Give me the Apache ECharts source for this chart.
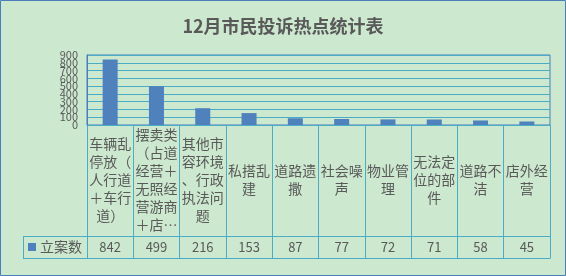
<!DOCTYPE html>
<html>
<head>
<meta charset="utf-8">
<script src="https://cdn.jsdelivr.net/npm/echarts@6/dist/echarts.min.js"></script>
<style>
html,body{margin:0;padding:0;background:#CCE8CF;}
#c{width:566px;height:276px;}
</style>
</head>
<body>
<div id="c"></div>
<script>
var title = '12月市民投诉热点统计表';
var seriesName = '立案数';
var categories = ['车辆乱停放（人行道＋车行道）', '摆卖类（占道经营＋无照经营游商＋店外经营）', '其他市容环境、行政执法问题', '私搭乱建', '道路遗撒', '社会噪声', '物业管理', '无法定位的部件', '道路不洁', '店外经营'];
var values = [842, 499, 216, 153, 87, 77, 72, 71, 58, 45];
var yTicks = [0, 100, 200, 300, 400, 500, 600, 700, 800, 900];

var FONT = '"Noto Sans CJK SC", "Noto Sans", sans-serif';
var TEXT = '#595959';
var GRIDC = '#4BACC6';
var BORDER = '#4A7EBB';
var Y_MIN = yTicks[0], Y_MAX = yTicks[yTicks.length - 1];

function wrapLabel(s) {
  var chars = Array.from(s), lines = [];
  for (var i = 0; i < chars.length; i += 3) lines.push(chars.slice(i, i + 3).join(''));
  if (lines.length > 6) {
    lines = lines.slice(0, 6);
    var last = Array.from(lines[5]);
    last[last.length - 1] = '…';
    lines[5] = last.join('');
  }
  return lines.join('\n');
}

var yLabelStyle = {margin: 9, fontFamily: FONT, fontSize: 11, color: TEXT, hideOverlap: false};

var chart = echarts.init(document.getElementById('c'), null, {renderer: 'canvas'});
var L = 87, R = 550, T = 55, B = 125;
chart.setOption({
  backgroundColor: '#CCE8CF',
  animation: false,
  title: {
    text: title, left: 'center', top: 12,
    textStyle: {fontFamily: FONT, fontSize: 18, fontWeight: 'bold', color: TEXT}
  },
  legend: {
    data: [seriesName], left: 28, top: 240, padding: 0,
    icon: 'rect', itemWidth: 8, itemHeight: 8, itemGap: 5,
    textStyle: {fontFamily: FONT, fontSize: 14, color: TEXT, padding: [0, 0, 0, -1]}
  },
  grid: {left: L, right: 566 - R, top: T, bottom: 276 - B, show: true, borderColor: BORDER, borderWidth: 1, backgroundColor: 'transparent'},
  xAxis: [{
    type: 'category', data: categories, position: 'bottom',
    axisLine: {show: true, lineStyle: {color: GRIDC, width: 1}},
    axisTick: {show: true, length: 133, lineStyle: {color: GRIDC, width: 1}},
    axisLabel: {interval: 0, margin: 55, verticalAlign: 'middle', lineHeight: 18,
      fontFamily: FONT, fontSize: 14, color: TEXT, formatter: wrapLabel}
  }, {
    type: 'category', data: values.map(String), position: 'bottom',
    axisLine: {show: false}, axisTick: {show: false},
    axisLabel: {interval: 0, margin: 122, verticalAlign: 'middle', fontFamily: FONT, fontSize: 13, color: TEXT}
  }],
  yAxis: [{
    type: 'value', min: Y_MIN, max: Y_MAX, interval: 100, position: 'left',
    axisLine: {show: true, lineStyle: {color: BORDER}},
    axisTick: {show: false},
    splitLine: {lineStyle: {color: GRIDC, width: 1}},
    axisLabel: Object.assign({showMinLabel: false, showMaxLabel: false}, yLabelStyle)
  }, {
    type: 'value', min: Y_MIN, max: Y_MAX, interval: 100, position: 'left',
    axisLine: {show: false}, axisTick: {show: false}, splitLine: {show: false},
    axisLabel: Object.assign({showMinLabel: true, showMaxLabel: true,
      formatter: function (v) { return (v === Y_MIN || v === Y_MAX) ? String(v) : ''; }}, yLabelStyle)
  }],
  series: [{
    name: seriesName, type: 'bar', data: values, barWidth: 15, yAxisIndex: 0,
    itemStyle: {color: '#4F81BD'}
  }],
  graphic: [
    {type: 'line', shape: {x1: 23, y1: 236.5, x2: R + 0.5, y2: 236.5}, style: {stroke: GRIDC, lineWidth: 1}},
    {type: 'line', shape: {x1: 23, y1: 258.5, x2: R + 0.5, y2: 258.5}, style: {stroke: GRIDC, lineWidth: 1}},
    {type: 'line', shape: {x1: 23.5, y1: 236, x2: 23.5, y2: 259}, style: {stroke: GRIDC, lineWidth: 1}},
    {type: 'rect', shape: {x: 0.5, y: 0.5, width: 565, height: 275}, style: {fill: null, stroke: BORDER, lineWidth: 1}}
  ]
});
</script>
</body>
</html>
